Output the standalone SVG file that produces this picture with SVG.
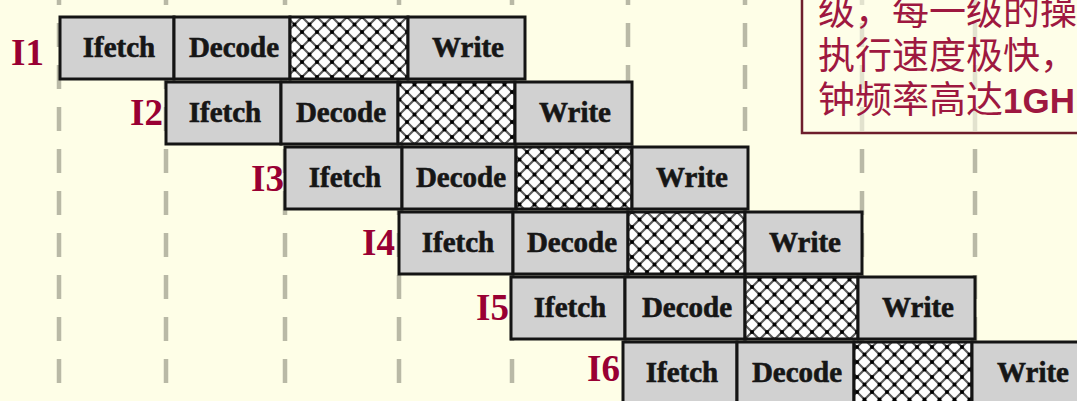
<svg xmlns="http://www.w3.org/2000/svg" width="1077" height="401" viewBox="0 0 1077 401">
<defs>
<pattern id="hatch" patternUnits="userSpaceOnUse" width="15" height="15" x="2" y="2">
<rect width="15" height="15" fill="#ffffff"/>
<path d="M0,0 L15,15 M15,0 L0,15" stroke="#5a5a5a" stroke-width="2.2"/>
<rect x="5.7" y="5.7" width="3.6" height="3.6" fill="#000"/>
<rect x="-1.8" y="-1.8" width="3.6" height="3.6" fill="#000"/>
<rect x="13.2" y="-1.8" width="3.6" height="3.6" fill="#000"/>
<rect x="-1.8" y="13.2" width="3.6" height="3.6" fill="#000"/>
<rect x="13.2" y="13.2" width="3.6" height="3.6" fill="#000"/>
</pattern>
<style>
.grid{stroke:#b9b9a6;stroke-width:4.5;stroke-dasharray:24 18;fill:none}
.cell{fill:#d1d1d1;stroke:#141414;stroke-width:3}
.hat{fill:url(#hatch);stroke:#141414;stroke-width:3}
.ct{font-family:"Liberation Serif",serif;font-weight:bold;font-size:29px;fill:#161616;stroke:#161616;stroke-width:0.6;text-anchor:middle}
.lab{font-family:"Liberation Serif",serif;font-weight:bold;font-size:37px;fill:#990033;text-anchor:end}
.cjk{font-family:"Noto Sans CJK SC",sans-serif;font-size:37px;fill:#9e1840}
.num{font-family:"Liberation Sans",sans-serif;font-weight:bold;font-size:35px;fill:#9e1840}
</style>
</defs>
<rect width="1077" height="401" fill="#fefee7"/>
<g id="gridlines">
<line class="grid" x1="59" y1="-19" x2="59" y2="410"/>
<line class="grid" x1="166" y1="-19" x2="166" y2="410"/>
<line class="grid" x1="285" y1="-19" x2="285" y2="410"/>
<line class="grid" x1="399" y1="-19" x2="399" y2="410"/>
<line class="grid" x1="512" y1="-19" x2="512" y2="410"/>
<line class="grid" x1="628" y1="-19" x2="628" y2="410"/>
<line class="grid" x1="745" y1="-19" x2="745" y2="410"/>
<line class="grid" x1="862" y1="-19" x2="862" y2="410"/>
<line class="grid" x1="975" y1="-19" x2="975" y2="410"/>
</g>
<g id="callout">
<rect x="802" y="-5" width="290" height="138" fill="#fdfde9" fill-opacity="0.6" stroke="#6e1e2c" stroke-width="2.5"/>
<text class="cjk" x="818" y="25">级，每一级的操</text>
<text class="cjk" x="818" y="69">执行速度极快，</text>
<text x="818" y="113"><tspan class="cjk">钟频率高达</tspan><tspan class="num">1GH</tspan></text>
</g>
<g id="I1">
<text class="lab" x="44" y="65">I1</text>
<rect class="cell" x="60" y="17" width="114" height="62"/>
<rect class="cell" x="174" y="17" width="116" height="62"/>
<rect class="hat" x="290" y="17" width="118" height="62"/>
<rect class="cell" x="408" y="17" width="117" height="62"/>
<text class="ct" x="119" y="57">Ifetch</text>
<text class="ct" x="234" y="57">Decode</text>
<text class="ct" x="468" y="57">Write</text>
</g>
<g id="I2">
<text class="lab" x="163" y="125">I2</text>
<rect class="cell" x="166" y="82" width="115" height="62"/>
<rect class="cell" x="281" y="82" width="117" height="62"/>
<rect class="hat" x="398" y="82" width="117" height="62"/>
<rect class="cell" x="515" y="82" width="117" height="62"/>
<text class="ct" x="225" y="122">Ifetch</text>
<text class="ct" x="341" y="122">Decode</text>
<text class="ct" x="575" y="122">Write</text>
</g>
<g id="I3">
<text class="lab" x="284" y="191">I3</text>
<rect class="cell" x="285" y="147" width="117" height="62"/>
<rect class="cell" x="402" y="147" width="114" height="62"/>
<rect class="hat" x="516" y="147" width="116" height="62"/>
<rect class="cell" x="632" y="147" width="116" height="62"/>
<text class="ct" x="345" y="187">Ifetch</text>
<text class="ct" x="461" y="187">Decode</text>
<text class="ct" x="692" y="187">Write</text>
</g>
<g id="I4">
<text class="lab" x="395" y="255">I4</text>
<rect class="cell" x="399" y="212" width="114" height="62"/>
<rect class="cell" x="513" y="212" width="115" height="62"/>
<rect class="hat" x="628" y="212" width="117" height="62"/>
<rect class="cell" x="745" y="212" width="117" height="62"/>
<text class="ct" x="458" y="252">Ifetch</text>
<text class="ct" x="572" y="252">Decode</text>
<text class="ct" x="805" y="252">Write</text>
</g>
<g id="I5">
<text class="lab" x="509" y="320">I5</text>
<rect class="cell" x="511" y="277" width="114" height="62"/>
<rect class="cell" x="625" y="277" width="120" height="62"/>
<rect class="hat" x="745" y="277" width="113" height="62"/>
<rect class="cell" x="858" y="277" width="117" height="62"/>
<text class="ct" x="570" y="317">Ifetch</text>
<text class="ct" x="687" y="317">Decode</text>
<text class="ct" x="918" y="317">Write</text>
</g>
<g id="I6">
<text class="lab" x="620" y="381">I6</text>
<rect class="cell" x="623" y="342" width="114" height="62"/>
<rect class="cell" x="737" y="342" width="117" height="62"/>
<rect class="hat" x="854" y="342" width="118" height="62"/>
<rect class="cell" x="972" y="342" width="118" height="62"/>
<text class="ct" x="682" y="382">Ifetch</text>
<text class="ct" x="797" y="382">Decode</text>
<text class="ct" x="1033" y="382">Write</text>
</g>
</svg>
